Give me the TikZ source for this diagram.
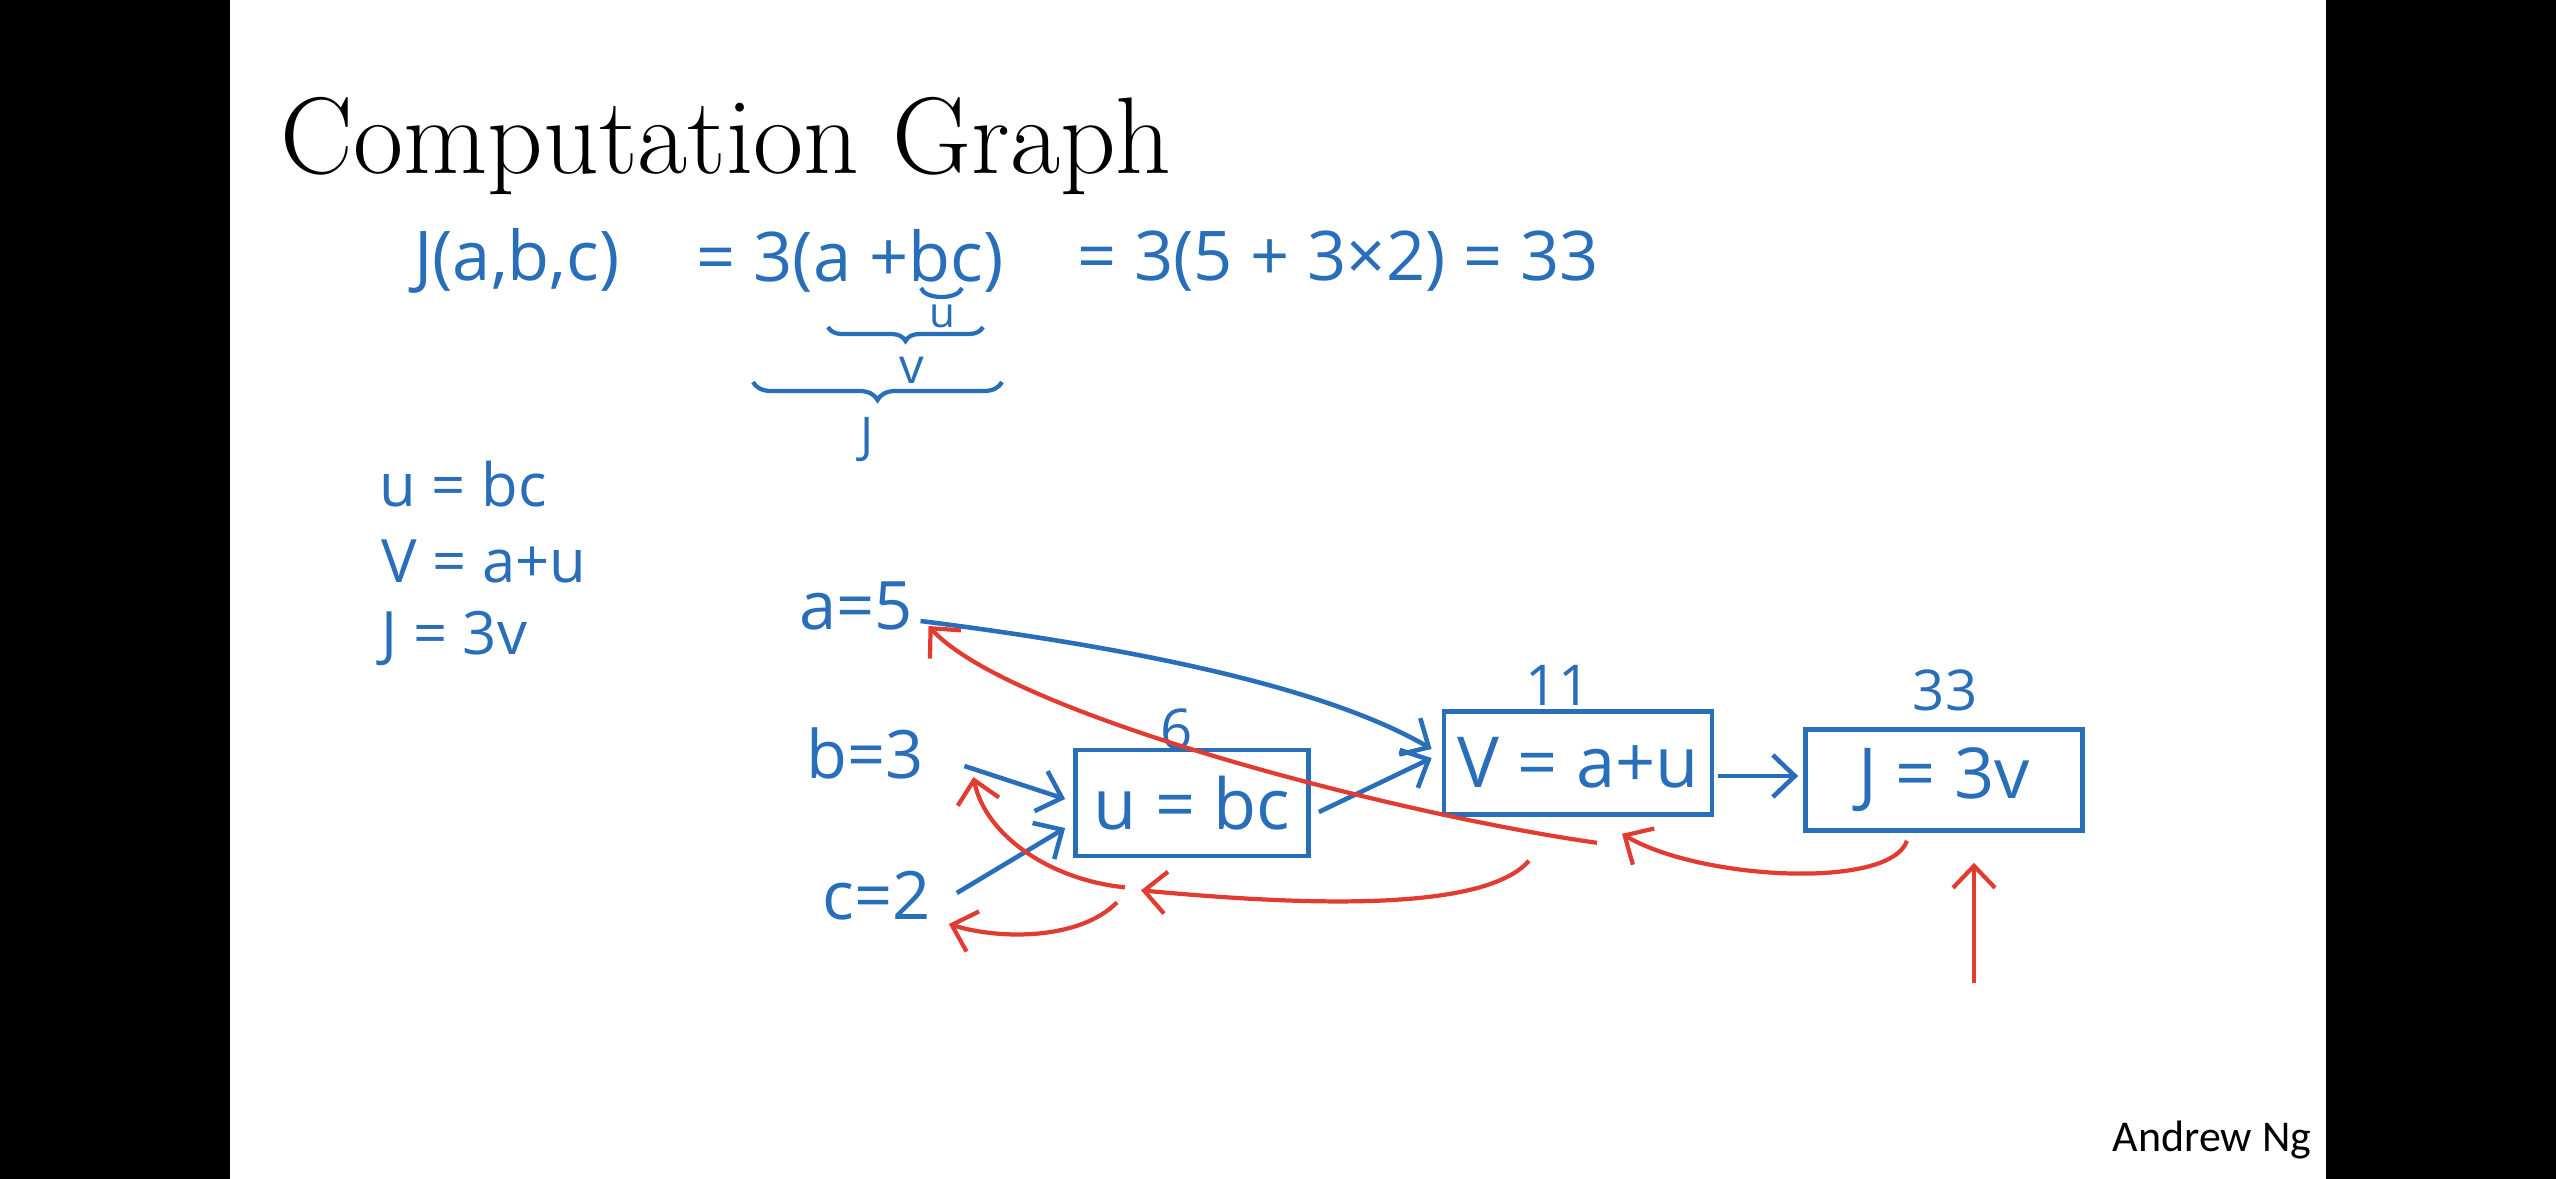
\documentclass[tikz,border=0pt]{standalone}
\usepackage{fontspec}
\newfontfamily\hand{Open Sans}
\newfontfamily\calib{Carlito}
\usetikzlibrary{arrows.meta,decorations.pathreplacing,calc}
\definecolor{inkblue}{RGB}{40,110,185}
\definecolor{inkred}{RGB}{225,60,50}
\begin{document}
\begin{tikzpicture}[x=0.01cm,y=-0.01cm,
  hw/.style={text=inkblue, font=\hand\fontsize{19}{22}\selectfont, inner sep=2pt},
  defs/.style={text=inkblue, font=\hand\fontsize{17}{20}\selectfont, inner sep=2pt},
  vals/.style={text=inkblue, font=\hand\fontsize{16}{18}\selectfont, inner sep=2pt},
  eqtext/.style={text=inkblue, font=\hand\fontsize{19.5}{22}\selectfont, inner sep=2pt},
  box/.style={draw=inkblue, line width=1.3pt, text=inkblue, font=\hand\fontsize{20}{24}\selectfont, inner sep=0pt},
  barrow/.style={draw=inkblue, line width=1.3pt, -{Straight Barb[length=0.22cm,width=0.42cm]}},
  rarrow/.style={draw=inkred, line width=1.2pt, -{Straight Barb[length=0.22cm,width=0.42cm]}},
  brc/.style={draw=inkblue, line width=1.2pt, decorate, decoration={brace, mirror, amplitude=0.14cm}}
]
\useasboundingbox (0,0) rectangle (2556,1179);
\fill[white] (0,0) rectangle (2556,1179);
\fill[black] (0,0) rectangle (230,1179);
\fill[black] (2326,0) rectangle (2556,1179);

% title and author
\node[anchor=base west, inner sep=0pt, font=\fontsize{31}{34}\selectfont] (title) at (280,174) {Computation Graph};
\node[anchor=base east, inner sep=0pt, font=\calib\fontsize{12.5}{14}\selectfont] (author) at (2312,1151) {Andrew Ng};

% top equation
\node[eqtext] (eq1) at (517,261) {J(a,b,c)};
\node[eqtext] (eq2) at (850,261) {= 3(a +bc)};
\node[eqtext] (eq3) at (1338,261) {= 3(5 + 3×2) = 33};

% braces
\coordinate (sm1) at (921,288);
\coordinate (sm2) at (962,288);
\draw[inkblue, line width=1.2pt] (sm1) .. controls (925,300) and (958,300) .. (sm2);
\node[hw, font=\hand\fontsize{12}{14}\selectfont] (lu) at (942,316) {u};
\coordinate (b2l) at (828,327);
\coordinate (b2r) at (983,327);
\draw[brc] (b2l) -- (b2r);
\node[hw, font=\hand\fontsize{14}{16}\selectfont] (lv) at (912,370) {v};
\coordinate (b3l) at (753,382);
\coordinate (b3r) at (1002,382);
\draw[brc, decoration={amplitude=0.18cm}] (b3l) -- (b3r);
\node[hw, font=\hand\fontsize{14}{16}\selectfont] (lJ) at (867,440) {J};

% definitions
\node[defs, anchor=west] (defu) at (372,484) {u = bc};
\node[defs, anchor=west] (defv) at (374,561) {V = a+u};
\node[defs, anchor=west] (defJ) at (374,638) {J = 3v};

% graph nodes
\node[hw] (ina) at (856,606) {a=5};
\node[hw] (inb) at (865,753) {b=3};
\node[hw] (inc) at (877,896) {c=2};
\node[box, minimum width=2.33cm, minimum height=1.06cm] (ubox) at (1192,803) {u = bc};
\node[box, minimum width=2.68cm, minimum height=1.03cm] (vbox) at (1578,763) {V = a+u};
\node[box, minimum width=2.77cm, minimum height=1.01cm] (jbox) at (1944,780) {J = 3v};
\node[vals] (n6) at (1177,729) {6};
\node[vals] (n11) at (1558,685) {11};
\node[vals] (n33) at (1945,690) {33};

% forward (blue) connectors
\draw[barrow] ($(ina.east)+(0,15)$) .. controls (1150,650) and (1330,690) .. ($(vbox.west)+(-10,-14)$);
\draw[barrow] ($(inb.east)+(33,13)$) -- ($(ubox.west)+(-8,-4)$);
\draw[barrow] ($(inc.east)+(18,-3)$) -- ($(ubox.west)+(-8,25)$);
\draw[barrow] ($(ubox.east)+(8,9)$) -- ($(vbox.west)+(-10,-5)$);
\draw[barrow] ($(vbox.east)+(4,13)$) -- ($(jbox.west)+(-5,-4)$);

% backward (red) connectors
\coordinate (dJ) at (1974,983);
\draw[rarrow] (dJ) -- ($(jbox.south)+(30,30)$);
\draw[rarrow] ($(jbox.south)+(-37,8)$) .. controls (1890,890) and (1700,880) .. ($(vbox.south)+(44,17)$);
\draw[rarrow] ($(vbox.south)+(-49,44)$) .. controls (1490,905) and (1350,910) .. ($(ubox.south)+(-51,32)$);
\draw[rarrow] ($(vbox.south)+(19,26)$) .. controls (1400,815) and (1010,715) .. ($(ina.east)+(8,20)$);
\draw[rarrow] ($(ubox.south)+(-67,29)$) .. controls (1050,880) and (985,835) .. ($(inb.east)+(42,24)$);
\draw[rarrow] ($(ubox.south)+(-75,44)$) .. controls (1080,940) and (1000,940) .. ($(inc.east)+(10,28)$);
\end{tikzpicture}
\end{document}
